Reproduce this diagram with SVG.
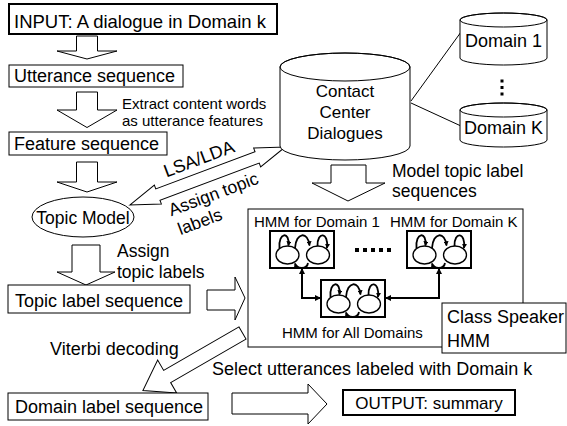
<svg xmlns="http://www.w3.org/2000/svg" width="567" height="426" viewBox="0 0 567 426">
<style>
text{font-family:"Liberation Sans",Arial,sans-serif;fill:#000}
.box{fill:#fff;stroke:#000;stroke-width:1}
.thick{stroke-width:2}
.arr{fill:#fff;stroke:#000;stroke-width:1;stroke-linejoin:miter}
.ln{fill:none;stroke:#000;stroke-width:1}
.hl{fill:none;stroke:#000;stroke-width:1.8}
.st{fill:#fff;stroke:#000;stroke-width:1.3}
.conn{fill:none;stroke:#000;stroke-width:2}
.f18{font-size:18px}
.f17{font-size:17.5px}
.f15{font-size:15px}
</style>
<defs>
<marker id="sm" viewBox="0 0 6 6" refX="5" refY="3" markerWidth="5" markerHeight="5" markerUnits="userSpaceOnUse" orient="auto"><path d="M0,0 L6,3 L0,6 Z" fill="#000"/></marker>
<marker id="ca" viewBox="0 0 6 6" refX="5.5" refY="3" markerWidth="6" markerHeight="6" markerUnits="userSpaceOnUse" orient="auto-start-reverse"><path d="M0,0 L6,3 L0,6 Z" fill="#000"/></marker>
<g id="hmm">
<rect x="0" y="0" width="64" height="37" fill="#fff" stroke="#000" stroke-width="2"/>
<ellipse class="st" cx="17.5" cy="24" rx="11.5" ry="9"/>
<ellipse class="st" cx="48" cy="24" rx="11.5" ry="9"/>
<path class="hl" d="M9.5,17 C8,1 20,0 18.5,14.5" marker-end="url(#sm)"/>
<path class="hl" d="M47.5,15 C47,0 59,1 57,17" marker-end="url(#sm)"/>
<path class="hl" d="M25,17 C26,1 38,0 39.5,14.5" marker-end="url(#sm)"/>
<path class="hl" d="M38,32 C37,38.5 27,38.5 25,32.5" marker-end="url(#sm)"/>
</g>
</defs>
<rect width="567" height="426" fill="#fff"/>

<g id="connectors">
<polygon class="arr" points="76.5,36 97.5,36 97.5,51 117,51 87,59 57,51 76.5,51"/>
<polygon class="arr" points="76.5,92 97.5,92 97.5,110 117,110 87,127.5 57,110 76.5,110"/>
<polygon class="arr" points="76.5,162 97.5,162 97.5,182 117,182 87,192 57,182 76.5,182"/>
<polygon class="arr" points="72,245 100,245 100,272 115,272 86,285 57,272 72,272"/>
<polygon class="arr" points="331,165 366,165 366,183 385,183 348,201 312,183 331,183"/>
<polygon class="arr" points="207,290 235,290 235,277 245,298 235,320 235,310 207,310"/>
<polygon class="arr" points="232,393 308,393 308,384 327,404 308,424 308,414 232,414"/>
<polygon class="arr" transform="translate(242.5,333) rotate(150)" points="0,-7 87,-7 87,-19 115,0 87,19 87,7 0,7"/>
<g transform="translate(207.5,176) rotate(-20.5)">
<polygon class="arr" points="-83,0 -53,-10 -53,-6 53,-6 53,-10 83,0 53,10 53,6 -53,6 -53,10"/>
<text class="f18" x="-2" y="-13" text-anchor="middle">LSA/LDA</text>
<text class="f17" x="-48" y="25">Assign topic</text>
<text class="f17" x="-46" y="46">labels</text>
</g>
<line class="ln" x1="411" y1="101" x2="461" y2="32"/>
<line class="ln" x1="411" y1="103" x2="461" y2="126"/>
<text class="f15" x="122" y="109">Extract content words</text>
<text class="f15" x="122" y="126">as utterance features</text>
<text class="f17" x="117" y="257">Assign</text>
<text class="f17" x="117" y="278">topic labels</text>
<text class="f17" x="392" y="177">Model topic label</text>
<text class="f17" x="392" y="197">sequences</text>
<text class="f18" x="50" y="355">Viterbi decoding</text>
<text class="f18" x="212" y="375">Select utterances labeled with Domain k</text>
</g>

<g id="input">
<rect class="box thick" x="9" y="4" width="268" height="30"/>
<text x="14" y="28" style="font-size:18.5px">INPUT: A dialogue in Domain k</text>
</g>
<g id="utterance">
<rect class="box" x="9" y="65" width="174" height="22"/>
<text class="f18" x="14" y="82">Utterance sequence</text>
</g>
<g id="feature">
<rect class="box" x="9" y="132" width="158" height="23"/>
<text class="f18" x="14" y="150">Feature sequence</text>
</g>
<g id="topicmodel">
<ellipse cx="83" cy="217" rx="51" ry="20" fill="#fff" stroke="#000"/>
<text class="f17" x="83" y="224" text-anchor="middle">Topic Model</text>
</g>
<g id="topiclabel">
<rect class="box" x="8" y="285" width="182" height="28"/>
<text class="f18" x="15" y="307">Topic label sequence</text>
</g>
<g id="domainlabel">
<rect class="box" x="8" y="393" width="200" height="27"/>
<text class="f18" x="15" y="413">Domain label sequence</text>
</g>
<g id="output">
<rect class="box thick" x="343" y="390" width="172" height="25"/>
<text x="429" y="409" text-anchor="middle" style="font-size:17px">OUTPUT: summary</text>
</g>
<g id="contact">
<path class="box" d="M280,67 V146 A65,14 0 0 0 410,146 V67 A65,14 0 0 0 280,67 Z"/>
<ellipse cx="345" cy="67" rx="65" ry="14" fill="none" stroke="#000"/>
<text x="345" y="97" text-anchor="middle" style="font-size:17px">Contact</text>
<text x="345" y="118" text-anchor="middle" style="font-size:17px">Center</text>
<text x="345" y="139" text-anchor="middle" style="font-size:17px">Dialogues</text>
</g>
<g id="domain1">
<path class="box" d="M460,20 V58 A43.5,7 0 0 0 547,58 V20 A43.5,7 0 0 0 460,20 Z"/>
<ellipse cx="503.5" cy="20" rx="43.5" ry="7" fill="none" stroke="#000"/>
<text class="f18" x="503.5" y="47" text-anchor="middle">Domain 1</text>
</g>
<g id="domaindots">
<rect x="500.5" y="79.5" width="3" height="3"/>
<rect x="500.5" y="86" width="3" height="3"/>
<rect x="500.5" y="92.5" width="3" height="3"/>
</g>
<g id="domainK">
<path class="box" d="M460,110 V140 A43.5,7 0 0 0 547,140 V110 A43.5,7 0 0 0 460,110 Z"/>
<ellipse cx="503.5" cy="110" rx="43.5" ry="7" fill="none" stroke="#000"/>
<text class="f18" x="503.5" y="134" text-anchor="middle">Domain K</text>
</g>
<g id="hmmbox">
<rect class="box" x="248" y="209" width="275" height="138"/>
<text class="f15" x="254" y="227">HMM for Domain 1</text>
<text class="f15" x="390" y="227">HMM for Domain K</text>
<text class="f15" x="282" y="338">HMM for All Domains</text>
</g>
<g id="hmm1"><use href="#hmm" x="270" y="231"/></g>
<g id="hmmK"><use href="#hmm" x="407" y="231"/></g>
<g id="hmmAll"><use href="#hmm" x="321" y="280"/></g>
<g id="hmmdots">
<rect x="355" y="248" width="4" height="4"/>
<rect x="363" y="248" width="4" height="4"/>
<rect x="371" y="248" width="4" height="4"/>
<rect x="379" y="248" width="4" height="4"/>
<rect x="387" y="248" width="4" height="4"/>
</g>
<g id="hmmlinks">
<path class="conn" d="M302,268.5 V298 H320.5" marker-start="url(#ca)" marker-end="url(#ca)"/>
<path class="conn" d="M439,268.5 V298 H385.5" marker-start="url(#ca)" marker-end="url(#ca)"/>
</g>
<g id="classspeaker">
<rect class="box" x="442" y="303" width="124" height="50"/>
<text class="f18" x="447" y="323">Class Speaker</text>
<text class="f18" x="447" y="347">HMM</text>
</g>
</svg>
